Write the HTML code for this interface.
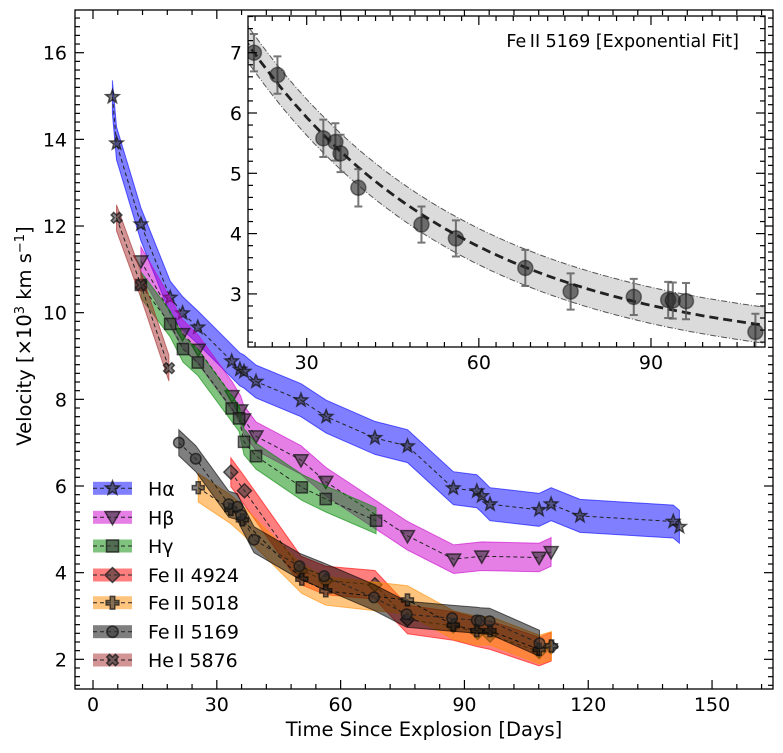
<!DOCTYPE html>
<html><head><meta charset="utf-8">
<style>
html,body{margin:0;padding:0;background:#fff;}
svg{display:block;font-family:"DejaVu Sans","Liberation Sans",sans-serif;}
</style></head>
<body>
<svg id="chart" width="783" height="753" viewBox="0 0 783 753" xmlns="http://www.w3.org/2000/svg">
<rect x="0" y="0" width="783" height="753" fill="#fff"/>
<g id="main"></g>
<g id="inset"></g>
<g id="legend"></g>
</svg>
<script>
// ---- data ----
const haDays = [4.7,5.7,11.6,18.7,21.7,25.4,33.6,35.6,36.6,39.5,50.4,56.5,68.3,76.2,87.3,93.0,94.2,96.2,108.1,111.0,118.0,140.6,142.1];
const haVel  = [14.98,13.91,12.04,10.35,9.99,9.66,8.88,8.69,8.64,8.41,7.98,7.60,7.11,6.92,5.95,5.88,5.77,5.58,5.45,5.58,5.31,5.18,5.06];
const hbDays = [11.6,21.7,25.5,33.7,35.8,36.5,39.5,50.4,56.4,76.2,87.4,94.2,108.1,111.0];
const hbVel  = [11.19,9.51,9.15,8.08,7.75,7.54,7.15,6.60,6.10,4.85,4.31,4.38,4.35,4.48];
const hgDays = [11.6,18.7,21.8,25.4,33.6,35.4,36.6,39.5,50.6,56.4,68.6];
const hgVel  = [10.64,9.74,9.16,8.85,7.79,7.56,7.02,6.69,5.97,5.70,5.20];
const fe4924Days = [33.4,36.7,50.4,56.4,68.3,76.2,87.3,93.2,96.2,108.1,111.0];
const fe4924Vel  = [6.32,5.89,4.05,3.82,3.72,2.92,2.77,2.62,2.56,2.18,2.29];
const fe5018Days = [25.5,33.4,36.2,50.6,56.4,76.2,87.3,93.0,96.2,108.1,111.1];
const fe5018Vel  = [5.96,5.46,5.22,3.85,3.58,3.37,2.79,2.66,2.66,2.23,2.31];
const fe5169Days = [20.8,24.9,32.9,35.0,35.9,39.0,50.0,56.0,68.1,76.0,87.0,93.0,93.8,96.1,108.2];
const fe5169Vel  = [7.00,6.63,5.58,5.52,5.33,4.76,4.15,3.92,3.43,3.04,2.95,2.90,2.89,2.88,2.37];
const fe5169Err  = [0.31,0.31,0.31,0.31,0.31,0.31,0.30,0.30,0.30,0.30,0.30,0.30,0.30,0.30,0.30];
const heDays = [5.7,11.6,18.4];
const heVel  = [12.19,10.64,8.72];
const bandHalf = [0.38,0.33,0.3,0.33,0.33,0.3,0.3];
const seriesLabels = ["Hα","Hβ","Hγ","Fe\u2009II 4924","Fe\u2009II 5018","Fe\u2009II 5169","He\u2009I 5876"];
const xTicks = [0,30,60,90,120,150];
const yTicks = [2,4,6,8,10,12,14,16];
const insetXTicks = [30,60,90];
const insetYTicks = [3,4,5,6,7];
const fitA = 8.65, fitTau = 38, fitC = 2.0, fitBand = 0.3;

const NS = "http://www.w3.org/2000/svg";
function mk(tag, attrs, parent){const e=document.createElementNS(NS,tag);for(const k in attrs)e.setAttribute(k,attrs[k]);if(parent)parent.appendChild(e);return e;}

const M = {l:75,r:773,t:10,b:689};
const xS = d => 93 + d*4.127;
const yS = v => 52.7 + (16 - v)*43.33;
const I = {l:248,r:765,t:16,b:347};
const ixS = d => 306.7 + (d-30)*5.738;
const iyS = v => 52.7 + (7 - v)*60.3;

const main = document.getElementById('main');
const series = [
 {d:haDays,v:haVel,c:"#0000ff",m:"star",n:"h-alpha"},
 {d:hbDays,v:hbVel,c:"#cc00cc",m:"tri",n:"h-beta"},
 {d:hgDays,v:hgVel,c:"#008800",m:"square",n:"h-gamma"},
 {d:fe4924Days,v:fe4924Vel,c:"#ff0000",m:"diamond",n:"fe2-4924"},
 {d:fe5018Days,v:fe5018Vel,c:"#ff8c00",m:"plus",n:"fe2-5018"},
 {d:fe5169Days,v:fe5169Vel,c:"#000000",m:"circle",n:"fe2-5169"},
 {d:heDays,v:heVel,c:"#a52a2a",m:"x",n:"he1-5876"}
];

function markerPath(type, x, y, s){
  if(type==="star"){let p=[];for(let i=0;i<10;i++){const r=i%2?s*0.42:s;const a=-Math.PI/2+i*Math.PI/5;p.push((x+r*Math.cos(a)).toFixed(1)+","+(y+r*Math.sin(a)).toFixed(1));}return "M"+p.join("L")+"Z";}
  if(type==="tri") return `M${x-s},${y-s*0.75}L${x+s},${y-s*0.75}L${x},${y+s}Z`;
  if(type==="square"){const h=s*0.8;return `M${x-h},${y-h}L${x+h},${y-h}L${x+h},${y+h}L${x-h},${y+h}Z`;}
  if(type==="diamond") return `M${x},${y-s}L${x+s},${y}L${x},${y+s}L${x-s},${y}Z`;
  if(type==="plus"){const a=s*0.3,b=s*0.85;return `M${x-a},${y-b}L${x+a},${y-b}L${x+a},${y-a}L${x+b},${y-a}L${x+b},${y+a}L${x+a},${y+a}L${x+a},${y+b}L${x-a},${y+b}L${x-a},${y+a}L${x-b},${y+a}L${x-b},${y-a}L${x-a},${y-a}Z`;}
  if(type==="x"){let p=[];const pts=[[0,-0.42],[0.45,-0.85],[0.85,-0.45],[0.42,0],[0.85,0.45],[0.45,0.85],[0,0.42],[-0.45,0.85],[-0.85,0.45],[-0.42,0],[-0.85,-0.45],[-0.45,-0.85]];pts.forEach(q=>p.push((x+q[0]*s*0.9).toFixed(1)+","+(y+q[1]*s*0.9).toFixed(1)));return "M"+p.join("L")+"Z";}
}
function drawMarker(g, type, x, y, s){
  if(type==="circle") return mk('circle',{cx:x,cy:y,r:s*0.75,fill:"#333",'fill-opacity':0.6,stroke:"#111",'stroke-width':1.5,'stroke-opacity':0.7},g);
  return mk('path',{d:markerPath(type,x,y,s),fill:"#333",'fill-opacity':0.6,stroke:"#111",'stroke-width':1.5,'stroke-opacity':0.7},g);
}

const defs = mk('defs',{},document.getElementById('chart'));
const cp = mk('clipPath',{id:'mclip'},defs);
mk('rect',{x:M.l,y:M.t,width:M.r-M.l,height:M.b-M.t},cp);
const mg = mk('g',{'clip-path':'url(#mclip)'},main);

series.forEach((s,si)=>{
  const g = mk('g',{},mg);
  
  
  const h = bandHalf[si];
  let up = s.d.map((d,i)=>xS(d).toFixed(1)+","+yS(s.v[i]+h).toFixed(1));
  let dn = s.d.map((d,i)=>xS(d).toFixed(1)+","+yS(s.v[i]-h).toFixed(1)).reverse();
  const band = mk('path',{d:"M"+up.join("L")+"L"+dn.join("L")+"Z",fill:s.c,'fill-opacity':0.5,stroke:s.c,'stroke-opacity':0.6,'stroke-width':1},g);
  
  
  const line = mk('polyline',{points:s.d.map((d,i)=>xS(d).toFixed(1)+","+yS(s.v[i]).toFixed(1)).join(" "),fill:"none",stroke:"#222",'stroke-width':1,'stroke-dasharray':'4,3'},g);
  
  
  s.d.forEach((d,i)=>{
    const e = drawMarker(g, s.m, xS(d), yS(s.v[i]), 7);
    
    
  });
});

const fr = mk('rect',{x:M.l,y:M.t,width:M.r-M.l,height:M.b-M.t,fill:"none",stroke:"#000",'stroke-width':1.3},main);


const tk = mk('g',{stroke:"#000",'stroke-width':1.2},main);
for(let d=0; d<=164; d+=6){const x=xS(d);const L=(d%30===0)?9:5;
  mk('line',{x1:x,y1:M.b,x2:x,y2:M.b-L},tk);mk('line',{x1:x,y1:M.t,x2:x,y2:M.t+L},tk);}
for(let k=7; k<=85; k++){const v=k/5;const y=yS(v);if(y<M.t||y>M.b)continue;const L=(k%10===0)?9:5;
  mk('line',{x1:M.l,y1:y,x2:M.l+L,y2:y},tk);mk('line',{x1:M.r,y1:y,x2:M.r-L,y2:y},tk);}
xTicks.forEach(t=>{const e=mk('text',{x:xS(t),y:711,'text-anchor':'middle','font-size':19},main);e.textContent=t;
  });
yTicks.forEach(t=>{const e=mk('text',{x:67,y:yS(t)+7,'text-anchor':'end','font-size':19},main);e.textContent=t;
  });
const xl = mk('text',{x:424,y:736,'text-anchor':'middle','font-size':19.5},main);
xl.textContent="Time Since Explosion [Days]";

const yl = mk('text',{x:0,y:0,'text-anchor':'middle','font-size':19.5,transform:'translate(31,336) rotate(-90)'},main);
yl.innerHTML='Velocity [×10<tspan dy="-7" font-size="13">3</tspan><tspan dy="7"> km s</tspan><tspan dy="-7" font-size="13">−1</tspan><tspan dy="7">]</tspan>';


// ---- inset ----
const inset = document.getElementById('inset');
mk('rect',{x:I.l,y:I.t,width:I.r-I.l,height:I.b-I.t,fill:"#fff"},inset);
const cp2 = mk('clipPath',{id:'iclip'},defs);
mk('rect',{x:I.l,y:I.t,width:I.r-I.l,height:I.b-I.t},cp2);
const ig = mk('g',{'clip-path':'url(#iclip)'},inset);
const fit = t => fitC + fitA*Math.exp(-t/fitTau);
let fu=[],fd=[],fl=[];
for(let t=19; t<=111; t+=1){fu.push(ixS(t).toFixed(1)+","+iyS(fit(t)+fitBand).toFixed(1));fd.push(ixS(t).toFixed(1)+","+iyS(fit(t)-fitBand).toFixed(1));fl.push(ixS(t).toFixed(1)+","+iyS(fit(t)).toFixed(1));}
const ib = mk('path',{d:"M"+fu.join("L")+"L"+fd.reverse().join("L")+"Z",fill:"#999",'fill-opacity':0.35,stroke:"#555",'stroke-width':1,'stroke-dasharray':'6,2,1,2'},ig);

const ifl = mk('polyline',{points:fl.join(" "),fill:"none",stroke:"#222",'stroke-width':2.8,'stroke-dasharray':'9,5'},ig);

fe5169Days.forEach((d,i)=>{
  const x=ixS(d), v=fe5169Vel[i], e=fe5169Err[i];
  const eb = mk('path',{d:`M${x},${iyS(v+e)}L${x},${iyS(v-e)}M${x-4},${iyS(v+e)}L${x+4},${iyS(v+e)}M${x-4},${iyS(v-e)}L${x+4},${iyS(v-e)}`,stroke:"#555",'stroke-opacity':0.8,'stroke-width':2,fill:"none"},ig);
  
  const c = mk('circle',{cx:x,cy:iyS(v),r:7.5,fill:"#222",'fill-opacity':0.6,stroke:"#111",'stroke-opacity':0.5,'stroke-width':1.5},ig);
  
});
const ifr = mk('rect',{x:I.l,y:I.t,width:I.r-I.l,height:I.b-I.t,fill:"none",stroke:"#000",'stroke-width':1.3},inset);

const itk = mk('g',{stroke:"#000",'stroke-width':1.2},inset);
for(let d=21; d<=109; d+=3){const x=ixS(d);const L=(d%30===0)?9:5;
  mk('line',{x1:x,y1:I.b,x2:x,y2:I.b-L},itk);mk('line',{x1:x,y1:I.t,x2:x,y2:I.t+L},itk);}
for(let k=11; k<=38; k++){const v=k/5;const y=iyS(v);if(y<I.t||y>I.b)continue;const L=(k%5===0)?9:5;
  mk('line',{x1:I.l,y1:y,x2:I.l+L,y2:y},itk);mk('line',{x1:I.r,y1:y,x2:I.r-L,y2:y},itk);}
insetXTicks.forEach(t=>{const e=mk('text',{x:ixS(t),y:369,'text-anchor':'middle','font-size':19},inset);e.textContent=t;
  });
insetYTicks.forEach(t=>{const e=mk('text',{x:242,y:iyS(t)+7,'text-anchor':'end','font-size':19},inset);e.textContent=t;
  });
const it = mk('text',{x:739,y:47,'text-anchor':'end','font-size':17.5},inset);
it.textContent="Fe\u2009II 5169 [Exponential Fit]";


// ---- legend ----
const leg = document.getElementById('legend');
const rowsY = [488.3,517.3,546,575,602.7,631.7,660];
series.forEach((s,i)=>{
  const g = mk('g',{},leg);
  
  
  const y=rowsY[i];
  mk('rect',{x:93,y:y-6.5,width:39,height:13,fill:s.c,'fill-opacity':0.5},g);
  mk('line',{x1:93,y1:y,x2:132,y2:y,stroke:"#222",'stroke-width':1,'stroke-dasharray':'4,3'},g);
  drawMarker(g,s.m,112.5,y,7.5);
  const t = mk('text',{x:148,y:y+7,'font-size':19},g);
  t.textContent = seriesLabels[i];
});
</script>
</body></html>
